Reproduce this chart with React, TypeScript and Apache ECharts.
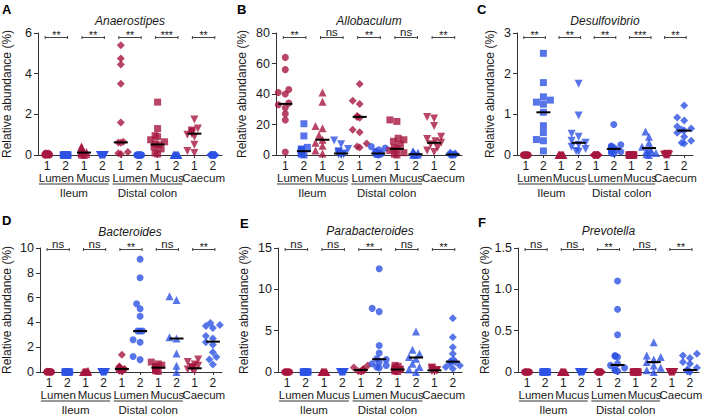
import React, { useEffect, useRef } from 'react';
import * as echarts from 'echarts';

// ---------- shared categories ----------
const CATS = ['1', '2', '1', '2', '1', '2', '1', '2', '1', '2'];
const PAIR_LABELS = ['Lumen', 'Mucus', 'Lumen', 'Mucus', 'Caecum'];
const REGION_LABELS = ['Ileum', 'Distal colon'];
const REGION_SPANS = [[0, 3], [4, 7]];
const SYMBOLS = ['circle', 'rect', 'triangle', 'triangle', 'diamond', 'circle', 'rect', 'triangle', 'triangle', 'diamond'];
const ROTATE = [0, 0, 0, 180, 0, 0, 0, 0, 180, 0];
const RED = '#a6163f';
const BLUE = '#2d52e3';

// ---------- Panel A: Anaerostipes ----------
const aTitle = 'Anaerostipes';
const aTicks = [0, 2, 4, 6];
const aValues = [
  [0.1, 0.08, 0.06, 0.05, 0.04, 0.03, 0.02, 0.01, 0, 0, 0, 0],
  [0, 0, 0, 0, 0, 0, 0, 0, 0, 0, 0, 0],
  [0.42, 0.38, 0.35, 0.3, 0.25, 0.2, 0.15, 0.12, 0.1, 0.05, 0.02, 0],
  [0, 0, 0, 0, 0, 0, 0, 0, 0, 0],
  [5.4, 4.75, 4.45, 3.5, 1.6, 0.65, 0.62, 0.6, 0.15, 0.08, 0.05],
  [0, 0, 0, 0, 0, 0, 0, 0, 0, 0, 0, 0],
  [2.6, 1.3, 0.95, 0.9, 0.75, 0.65, 0.55, 0.5, 0.4, 0.3, 0.1, 0.05],
  [0, 0, 0, 0, 0, 0, 0, 0, 0, 0],
  [1.75, 1.3, 1.2, 1.15, 1.1, 1.05, 1.0, 0.9, 0.5, 0.2, 0.1],
  [0, 0, 0, 0, 0, 0, 0, 0, 0, 0, 0],
];
const aMedians = [null, null, 0.12, null, 0.62, null, 0.52, null, 1.05, null];
const aSig = ['**', '**', '**', '***', '**'];

// ---------- Panel B: Allobaculum ----------
const bTitle = 'Allobaculum';
const bTicks = [0, 20, 40, 60, 80];
const bValues = [
  [64, 56, 43, 41, 40, 34, 33, 31, 27, 23, 2],
  [20.5, 12.5, 5, 4, 3.5, 3, 2.5, 2, 1.5, 1, 0.5, 0],
  [41, 35, 19, 17.5, 13, 10, 8, 6, 3, 1],
  [9.5, 7, 4, 2.5, 2, 1.5, 1, 0.5, 0.3, 0],
  [46.5, 35.5, 33.5, 25.5, 25, 24.5, 16.5, 15, 7.5, 5.5, 5],
  [5.5, 4.5, 3.5, 2.5, 2, 1.5, 1, 0.8, 0.5, 0.3, 0.1],
  [23, 22, 11, 10, 9, 7, 5, 4, 3, 1.5, 0.5, 0],
  [2.5, 2, 1.5, 1, 0.8, 0.5, 0.3, 0.1, 0],
  [25, 24, 19, 12, 10.5, 9, 8, 7, 5, 3, 2],
  [1.5, 1, 0.6, 0.4, 0.2, 0.1, 0, 0],
];
const bMedians = [33.5, 2.5, 10, 1, 25, 1, 4, 0.5, 8, 0.3];
const bSig = ['**', 'ns', '**', 'ns', '**'];

// ---------- Panel C: Desulfovibrio ----------
const cTitle = 'Desulfovibrio';
const cTicks = [0, 1, 2, 3];
const cValues = [
  [0, 0, 0, 0, 0, 0, 0, 0, 0, 0, 0, 0],
  [2.5, 1.78, 1.43, 1.35, 1.3, 1.25, 1.05, 0.72, 0.55, 0.38, 0.35, 0.1],
  [0, 0, 0, 0, 0, 0, 0, 0, 0, 0, 0],
  [1.75, 0.97, 0.52, 0.45, 0.35, 0.3, 0.25, 0.2, 0.15, 0.1, 0.08],
  [0, 0, 0, 0, 0, 0, 0, 0, 0, 0, 0],
  [0.75, 0.25, 0.22, 0.2, 0.18, 0.15, 0.13, 0.1, 0.08, 0.05, 0.03],
  [0, 0, 0, 0, 0, 0, 0, 0, 0, 0, 0, 0],
  [0.58, 0.45, 0.3, 0.2, 0.15, 0.1, 0.08, 0.05, 0.02, 0],
  [0.03, 0.02, 0.02, 0.01, 0.01, 0, 0, 0, 0, 0],
  [1.22, 0.92, 0.85, 0.7, 0.65, 0.62, 0.6, 0.55, 0.45, 0.35, 0.3, 0.28],
];
const cMedians = [null, 1.05, null, 0.3, null, 0.15, null, 0.17, null, 0.6];
const cSig = ['**', '**', '**', '***', '**'];

// ---------- Panel D: Bacteroides ----------
const dTitle = 'Bacteroides';
const dTicks = [0, 2, 4, 6, 8, 10];
const dValues = [
  [0.05, 0.03, 0.02, 0.01, 0, 0, 0, 0, 0, 0],
  [0, 0, 0, 0, 0, 0, 0, 0, 0, 0],
  [0.1, 0.05, 0.03, 0, 0, 0, 0, 0, 0, 0],
  [0, 0, 0, 0, 0, 0, 0, 0, 0, 0],
  [1.4, 0.45, 0.4, 0.35, 0.3, 0.25, 0.2, 0.2, 0.15, 0.1, 0.05],
  [9.1, 7.6, 5.5, 5.1, 4.5, 3.3, 3.3, 3.3, 2.6, 2.4, 1.25, 1.0],
  [0.8, 0.65, 0.55, 0.45, 0.4, 0.35, 0.3, 0.25, 0.2, 0.15, 0.1, 0.05],
  [6.1, 5.8, 2.8, 2.7, 1.5, 0.5, 0],
  [1.0, 0.8, 0.6, 0.5, 0.4, 0.35, 0.3, 0.25, 0.2, 0.1],
  [3.95, 3.8, 3.7, 3.55, 2.9, 2.7, 2.4, 2.2, 1.6, 1.2, 1.0, 0.6],
];
const dMedians = [null, null, null, null, 0.25, 3.3, 0.35, 2.7, 0.3, 2.45];
const dSig = ['ns', 'ns', '**', 'ns', '**'];

// ---------- Panel E: Parabacteroides ----------
const eTitle = 'Parabacteroides';
const eTicks = [0, 5, 10, 15];
const eValues = [
  [0, 0, 0, 0, 0, 0, 0, 0, 0, 0],
  [0, 0, 0, 0, 0, 0, 0, 0, 0, 0],
  [0, 0, 0, 0, 0, 0, 0, 0, 0, 0],
  [0, 0, 0, 0, 0, 0, 0, 0, 0, 0],
  [0.8, 0.55, 0.35, 0.3, 0.25, 0.2, 0.15, 0.1, 0.05],
  [12.5, 7.7, 7.3, 3.2, 2.3, 1.6, 1.5, 1.2, 1.0, 0.8, 0.6, 0.5],
  [0.8, 0.7, 0.55, 0.45, 0.35, 0.3, 0.25, 0.2, 0.1, 0.05],
  [4.9, 2.7, 2.2, 1.8, 1.6, 1.0, 0.6, 0.3, 0],
  [0.55, 0.45, 0.35, 0.25, 0.2, 0.15, 0.1, 0.05],
  [6.5, 4.2, 3.0, 2.2, 1.5, 1.3, 1.2, 1.0, 0.8, 0.6, 0.4],
];
const eMedians = [null, null, null, null, 0.25, 1.55, 0.3, 1.75, 0.2, 1.25];
const eSig = ['ns', 'ns', '**', 'ns', '**'];

// ---------- Panel F: Prevotella ----------
const fTitle = 'Prevotella';
const fTicks = [0, 0.5, 1.0, 1.5];
const fValues = [
  [0, 0, 0, 0, 0, 0, 0, 0, 0, 0],
  [0, 0, 0, 0, 0, 0, 0, 0, 0, 0],
  [0, 0, 0, 0, 0, 0, 0, 0, 0, 0],
  [0, 0, 0, 0, 0, 0, 0, 0, 0, 0],
  [0, 0, 0, 0, 0, 0, 0, 0, 0, 0],
  [1.1, 0.76, 0.45, 0.2, 0.19, 0.18, 0.1, 0.08, 0.05, 0.03, 0.02, 0.01],
  [0, 0, 0, 0, 0, 0, 0, 0, 0, 0, 0],
  [0.36, 0.2, 0.18, 0.15, 0.12, 0.08, 0.05, 0.02, 0],
  [0, 0, 0, 0, 0, 0, 0, 0, 0, 0],
  [0.22, 0.2, 0.17, 0.12, 0.1, 0.05, 0.03, 0.02, 0.01, 0],
];
const fMedians = [null, null, null, null, null, 0.085, null, 0.12, null, 0.025];
const fSig = ['ns', 'ns', '**', 'ns', '**'];

const PANEL_DATA = [
  { letter: 'A', title: aTitle, ticks: aTicks, values: aValues, medians: aMedians, sig: aSig, decimals: 0 },
  { letter: 'B', title: bTitle, ticks: bTicks, values: bValues, medians: bMedians, sig: bSig, decimals: 0 },
  { letter: 'C', title: cTitle, ticks: cTicks, values: cValues, medians: cMedians, sig: cSig, decimals: 0 },
  { letter: 'D', title: dTitle, ticks: dTicks, values: dValues, medians: dMedians, sig: dSig, decimals: 0 },
  { letter: 'E', title: eTitle, ticks: eTicks, values: eValues, medians: eMedians, sig: eSig, decimals: 0 },
  { letter: 'F', title: fTitle, ticks: fTicks, values: fValues, medians: fMedians, sig: fSig, decimals: 1 },
];

// ---------- layout (positions only) ----------
const LAYOUT = [
  { left: 38, top: 33, width: 184, height: 122, nameGap: 25, letterX: 2, letterY: 10, titleY: 21, brOff: 4.5 },
  { left: 276, top: 33, width: 186, height: 122, nameGap: 28, letterX: 237, letterY: 10, titleY: 21, brOff: 4.5 },
  { left: 517, top: 33, width: 176, height: 122, nameGap: 21, letterX: 477, letterY: 10, titleY: 21, brOff: 4.5 },
  { left: 38, top: 248, width: 184, height: 124, nameGap: 27, letterX: 2, letterY: 221, titleY: 232, brOff: 1.5 },
  { left: 278, top: 248, width: 184, height: 124, nameGap: 28, letterX: 240, letterY: 224, titleY: 231, brOff: 1.5 },
  { left: 518, top: 248, width: 181, height: 124, nameGap: 25, letterX: 478, letterY: 223, titleY: 231, brOff: 1.5 },
];

const FONT = '"Liberation Sans", Arial, Helvetica, sans-serif';
const TXT = '#1a1a1a';

// beeswarm-style horizontal offsets (pixels) so that points do not pile up
function swarm(values: number[], pxPerUnit: number, size: number): number[] {
  const cands = [0, -3.5, 3.5, -7, 7];
  const compact = [0, -2.5, 2.5, -1.25, 1.25, -2, 2, -0.6, 0.6, -1.8, 1.8, 0];
  const placed: { x: number; y: number }[] = [];
  const order = values.map((_, i) => i).sort((a, b) => values[a] - values[b]);
  const offs = new Array(values.length).fill(0);
  const minDist = (x: number, y: number) => {
    let m = Infinity;
    for (const p of placed) {
      const d = Math.hypot(p.x - x, p.y - y);
      if (d < m) m = d;
    }
    return m;
  };
  for (const i of order) {
    const y = values[i] * pxPerUnit;
    // points (almost) on the same level form a compact clump
    const same = placed.filter((p) => Math.abs(p.y - y) < 1.2).length;
    let chosen: number | null = null;
    if (same >= 1) {
      chosen = compact[same % compact.length];
    } else {
      for (const c of cands) {
        if (minDist(c, y) >= size) { chosen = c; break; }
      }
      if (chosen === null) {
        let best = 0, bestD = -1;
        for (const c of compact) {
          const d = minDist(c, y);
          if (d > bestD + 0.01) { bestD = d; best = c; }
        }
        chosen = best;
      }
    }
    placed.push({ x: chosen, y });
    offs[i] = chosen;
  }
  return offs;
}

function buildOption() {
  const grid: any[] = [];
  const xAxis: any[] = [];
  const yAxis: any[] = [];
  const series: any[] = [];
  const graphic: any[] = [];

  PANEL_DATA.forEach((p, gi) => {
    const L = LAYOUT[gi];
    const max = p.ticks[p.ticks.length - 1];
    const interval = p.ticks[1] - p.ticks[0];
    grid.push({ left: L.left, top: L.top, width: L.width, height: L.height, containLabel: false });
    xAxis.push({
      type: 'category', gridIndex: gi, data: CATS, boundaryGap: true,
      axisLine: { lineStyle: { color: '#333', width: 1 } },
      axisTick: { show: true, alignWithLabel: true, length: 3, lineStyle: { color: '#333' } },
      axisLabel: { margin: 5, fontSize: 12, color: TXT, fontFamily: FONT },
      splitLine: { show: false },
    });
    yAxis.push({
      type: 'value', gridIndex: gi, min: 0, max, interval,
      name: 'Relative abundance (%)', nameLocation: 'middle', nameGap: L.nameGap,
      nameTextStyle: { fontSize: 12, color: TXT, fontFamily: FONT },
      axisLine: { show: true, lineStyle: { color: '#333', width: 1 } },
      axisTick: { show: true, length: 4, lineStyle: { color: '#333' } },
      axisLabel: {
        fontSize: 12.5, color: TXT, fontFamily: FONT, margin: 6,
        formatter: (v: number) => (v === 0 ? '0' : v.toFixed(p.decimals)),
      },
      splitLine: { show: false },
    });

    const pxPerUnit = L.height / max;
    const pts: any[] = [];
    p.values.forEach((vals, c) => {
      const offs = swarm(vals, pxPerUnit, 5.5);
      vals.forEach((v, k) => {
        const sym = SYMBOLS[c];
        const size = sym === 'diamond' ? 8 : sym === 'triangle' ? 8 : 7;
        pts.push({
          value: [c, v],
          symbol: sym,
          symbolRotate: ROTATE[c],
          symbolSize: size,
          symbolOffset: [offs[k], 0],
          itemStyle: { color: c % 2 === 0 ? RED : BLUE },
        });
      });
    });
    series.push({
      type: 'scatter', xAxisIndex: gi, yAxisIndex: gi, data: pts, z: 2, clip: false,
      silent: true,
    });

    // medians
    const medData: any[] = [];
    p.medians.forEach((m, c) => { if (m !== null) medData.push([c, m]); });
    series.push({
      type: 'custom', xAxisIndex: gi, yAxisIndex: gi, data: medData, z: 4, clip: false, silent: true,
      renderItem: (_params: any, api: any) => {
        const pt = api.coord([api.value(0), api.value(1)]);
        return {
          type: 'line',
          shape: { x1: pt[0] - 7, y1: pt[1], x2: pt[0] + 7, y2: pt[1] },
          style: { stroke: '#000', lineWidth: 2 },
        };
      },
    });

    // significance brackets + pair labels
    series.push({
      type: 'custom', xAxisIndex: gi, yAxisIndex: gi, z: 5, clip: false, silent: true,
      data: PAIR_LABELS.map((_, i) => [i, 0]),
      renderItem: (_params: any, api: any) => {
        const i = api.value(0);
        const a = api.coord([2 * i, max]);
        const b = api.coord([2 * i + 1, max]);
        const base = api.coord([2 * i, 0]);
        const ly = a[1] + L.brOff;
        const x1 = a[0] - 2;
        const x2 = b[0] + 2;
        const cx = (a[0] + b[0]) / 2;
        const sig = p.sig[i];
        const isStar = sig.indexOf('*') >= 0;
        return {
          type: 'group',
          children: [
            { type: 'line', shape: { x1, y1: ly, x2, y2: ly }, style: { stroke: '#444', lineWidth: 1 } },
            { type: 'line', shape: { x1, y1: ly - 1.5, x2: x1, y2: ly + 1.5 }, style: { stroke: '#444', lineWidth: 1 } },
            { type: 'line', shape: { x1: x2, y1: ly - 1.5, x2, y2: ly + 1.5 }, style: { stroke: '#444', lineWidth: 1 } },
            {
              type: 'text',
              style: {
                text: sig, x: cx, y: isStar ? ly + 3 : ly + 0.5,
                align: 'center', verticalAlign: 'bottom',
                fontSize: isStar ? 10.5 : 11.5, fontFamily: FONT, fill: TXT,
              },
            },
            {
              type: 'text',
              style: {
                text: PAIR_LABELS[i], x: cx, y: base[1] + 22.5,
                align: 'center', verticalAlign: 'middle',
                fontSize: 11.5, fontFamily: FONT, fill: TXT,
              },
            },
          ],
        };
      },
    });

    // region underline + label
    series.push({
      type: 'custom', xAxisIndex: gi, yAxisIndex: gi, z: 5, clip: false, silent: true,
      data: REGION_LABELS.map((_, i) => [i, 0]),
      renderItem: (_params: any, api: any) => {
        const i = api.value(0);
        const [s, e] = REGION_SPANS[i];
        const c0 = api.coord([0, 0]);
        const c1 = api.coord([1, 0]);
        const band = c1[0] - c0[0];
        const a = api.coord([s, 0]);
        const b = api.coord([e, 0]);
        const xl = a[0] - 0.45 * band;
        const xr = b[0] + 0.35 * band;
        const uy = a[1] + 29;
        return {
          type: 'group',
          children: [
            { type: 'line', shape: { x1: xl, y1: uy, x2: xr, y2: uy }, style: { stroke: '#333', lineWidth: 1 } },
            {
              type: 'text',
              style: {
                text: REGION_LABELS[i], x: (xl + xr) / 2, y: a[1] + 38,
                align: 'center', verticalAlign: 'middle',
                fontSize: 11.5, fontFamily: FONT, fill: TXT,
              },
            },
          ],
        };
      },
    });

    graphic.push({
      type: 'text', left: L.letterX, top: L.letterY - 7,
      style: { text: p.letter, fontSize: 13, fontWeight: 'bold', fontFamily: FONT, fill: '#000' },
    });
    graphic.push({
      type: 'text', x: L.left + L.width / 2, y: L.titleY,
      style: {
        text: p.title, align: 'center', verticalAlign: 'middle',
        fontSize: 12, fontStyle: 'italic', fontFamily: FONT, fill: TXT,
      },
    });
  });

  return { animation: false, backgroundColor: '#fff', grid, xAxis, yAxis, series, graphic };
}

export default function App() {
  const ref = useRef<HTMLDivElement>(null);
  useEffect(() => {
    const chart = echarts.init(ref.current as HTMLDivElement, null, { renderer: 'svg' });
    chart.setOption(buildOption() as any);
    return () => chart.dispose();
  }, []);
  return (
    <div
      ref={ref}
      style={{ position: 'fixed', left: 0, top: 0, width: 709, height: 419, background: '#fff' }}
    />
  );
}
